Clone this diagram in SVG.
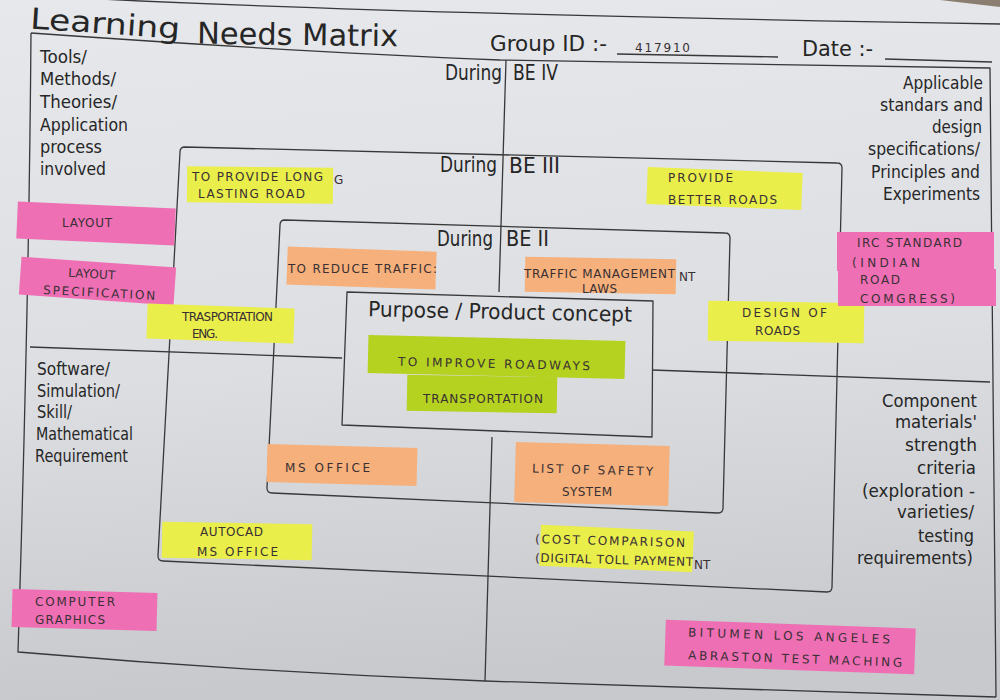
<svg xmlns="http://www.w3.org/2000/svg" width="1000" height="700" viewBox="0 0 1000 700">
<defs>
<linearGradient id="paper" x1="0" y1="0" x2="0.1" y2="1">
<stop offset="0" stop-color="#e6e8eb"/>
<stop offset="0.55" stop-color="#dcdee2"/>
<stop offset="1" stop-color="#c7c9cd"/>
</linearGradient>
<path id="titlePath" d="M30,28.5 Q100,33 180,39" fill="none"/>
<style>
.ln{fill:none;stroke:#383838;stroke-width:1.3;stroke-linejoin:round}
.pt{font-family:"DejaVu Sans","Liberation Sans",sans-serif;fill:#262626}
.lb{font-size:18px}
.rt{font-size:18px;text-anchor:end}
.hd{font-size:21px}
.hw{font-family:"DejaVu Sans","Liberation Sans",sans-serif;fill:#3a3034;font-size:12px}
.y{fill:#e9ee4b}
.lime{fill:#b4d21f}
.or{fill:#f6b07b}
.pk{fill:#ef6fb4}
</style>
</defs>
<rect x="0" y="0" width="1000" height="700" fill="url(#paper)"/>
<path d="M940,0 L1000,0 L1000,7 Z" fill="#8a7e70"/>

<g id="frame">
<path class="ln" d="M100,-1 Q400,14 1000,24" stroke-width="1"/>
<path class="ln" d="M31,33 Q300,52 500,60 L990,68 L996,697"/>
<path class="ln" d="M31,33 Q29,300 18,652 Q250,672 485,681 L996,697"/>
<path class="ln" d="M506,60 L499,292"/>
<path class="ln" d="M492,437 L485,681"/>
<path class="ln" d="M30,347 L342,358"/>
<path class="ln" d="M652,370 L990,382"/>
<path id="box-be3" class="ln" d="M185,147 L837,163 Q842,163 842,168 L832,587 Q832,592 827,592 L163,561 Q158,561 158,556 L180,152 Q180,147 185,147 Z"/>
<path id="box-be2" class="ln" d="M285,220 L725,233 Q730,233 730,238 L723,508 Q723,513 718,513 L272,493 Q267,493 267,488 L280,225 Q280,220 285,220 Z"/>
<path id="box-purpose" class="ln" d="M347,292 L653,301 L652,437 L342,425 Z"/>
</g>

<g id="title">
<text class="pt" font-size="29" fill="#222"><textPath href="#titlePath" textLength="150" lengthAdjust="spacingAndGlyphs">Learning</textPath></text>
<text class="pt" font-size="30" fill="#222" x="197" y="45" transform="rotate(0.8 300 45)" textLength="201" lengthAdjust="spacingAndGlyphs">Needs Matrix</text>
<text class="pt hd" x="490" y="51" textLength="117" lengthAdjust="spacingAndGlyphs">Group ID :-</text>
<path class="ln" d="M617,54 L778,57" stroke-width="1"/>
<text class="hw" x="635" y="52" font-size="10" fill="#555" textLength="55" lengthAdjust="spacing">417910</text>
<text class="pt hd" x="802" y="56" textLength="71" lengthAdjust="spacingAndGlyphs">Date :-</text>
<path class="ln" d="M885,59 L992,62" stroke-width="1"/>
</g>

<g id="label-be4">
<text class="pt hd" x="445" y="80" textLength="57" lengthAdjust="spacingAndGlyphs">During</text>
<text class="pt hd" x="513" y="80" textLength="45" lengthAdjust="spacingAndGlyphs">BE IV</text>
</g>
<g id="label-be3">
<text class="pt hd" x="440" y="172" textLength="57" lengthAdjust="spacingAndGlyphs">During</text>
<text class="pt hd" x="509" y="173" textLength="51" lengthAdjust="spacingAndGlyphs">BE III</text>
</g>
<g id="label-be2">
<text class="pt hd" x="437" y="246" textLength="56" lengthAdjust="spacingAndGlyphs">During</text>
<text class="pt hd" x="506" y="246" textLength="43" lengthAdjust="spacingAndGlyphs">BE II</text>
</g>
<g id="label-purpose">
<text class="pt hd" x="368" y="319" transform="rotate(1.2 500 312)" textLength="264" lengthAdjust="spacingAndGlyphs">Purpose / Product concept</text>
</g>

<g id="label-tools">
<text class="pt lb" x="40" y="63" textLength="47" lengthAdjust="spacingAndGlyphs">Tools/</text>
<text class="pt lb" x="40" y="85" textLength="76" lengthAdjust="spacingAndGlyphs">Methods/</text>
<text class="pt lb" x="40" y="108" textLength="77" lengthAdjust="spacingAndGlyphs">Theories/</text>
<text class="pt lb" x="40" y="131" textLength="88" lengthAdjust="spacingAndGlyphs">Application</text>
<text class="pt lb" x="40" y="153" textLength="62" lengthAdjust="spacingAndGlyphs">process</text>
<text class="pt lb" x="40" y="175" textLength="66" lengthAdjust="spacingAndGlyphs">involved</text>
</g>
<g id="label-standards">
<text class="pt rt" x="983" y="89" textLength="80" lengthAdjust="spacingAndGlyphs">Applicable</text>
<text class="pt rt" x="983" y="111" textLength="103" lengthAdjust="spacingAndGlyphs">standars and</text>
<text class="pt rt" x="982" y="133" textLength="50" lengthAdjust="spacingAndGlyphs">design</text>
<text class="pt rt" x="980" y="155" textLength="112" lengthAdjust="spacingAndGlyphs">specifications/</text>
<text class="pt rt" x="980" y="178" textLength="109" lengthAdjust="spacingAndGlyphs">Principles and</text>
<text class="pt rt" x="980" y="200" textLength="97" lengthAdjust="spacingAndGlyphs">Experiments</text>
</g>
<g id="label-software">
<text class="pt lb" x="37" y="375" textLength="73" lengthAdjust="spacingAndGlyphs">Software/</text>
<text class="pt lb" x="37" y="397" textLength="83" lengthAdjust="spacingAndGlyphs">Simulation/</text>
<text class="pt lb" x="37" y="418" textLength="35" lengthAdjust="spacingAndGlyphs">Skill/</text>
<text class="pt lb" x="36" y="440" textLength="97" lengthAdjust="spacingAndGlyphs">Mathematical</text>
<text class="pt lb" x="35" y="462" textLength="93" lengthAdjust="spacingAndGlyphs">Requirement</text>
</g>
<g id="label-component">
<text class="pt rt" x="977" y="407" textLength="95" lengthAdjust="spacingAndGlyphs">Component</text>
<text class="pt rt" x="977" y="428" textLength="82" lengthAdjust="spacingAndGlyphs">materials'</text>
<text class="pt rt" x="977" y="451" textLength="72" lengthAdjust="spacingAndGlyphs">strength</text>
<text class="pt rt" x="976" y="474" textLength="59" lengthAdjust="spacingAndGlyphs">criteria</text>
<text class="pt rt" x="975" y="497" textLength="113" lengthAdjust="spacingAndGlyphs">(exploration -</text>
<text class="pt rt" x="974" y="518" textLength="77" lengthAdjust="spacingAndGlyphs">varieties/</text>
<text class="pt rt" x="974" y="542" textLength="56" lengthAdjust="spacingAndGlyphs">testing</text>
<text class="pt rt" x="973" y="564" textLength="116" lengthAdjust="spacingAndGlyphs">requirements)</text>
</g>

<g id="note-long-lasting">
<rect class="y" x="187" y="167" width="146" height="36" transform="rotate(0.5 260 185)"/>
<text class="hw" x="192" y="181" font-size="10.5" textLength="131" lengthAdjust="spacing">TO PROVIDE LONG</text>
<text class="hw" x="198" y="198" font-size="10.5" textLength="107" lengthAdjust="spacing">LASTING ROAD</text>
<text class="hw" x="334" y="184" font-size="10.5">G</text>
</g>
<g id="note-better-roads">
<rect class="y" x="647" y="170" width="155" height="37" transform="rotate(2.2 724 188)"/>
<text class="hw" x="668" y="182" font-size="10.5" textLength="65" lengthAdjust="spacing">PROVIDE</text>
<text class="hw" x="668" y="204" font-size="10.5" textLength="109" lengthAdjust="spacing">BETTER ROADS</text>
</g>
<g id="note-layout">
<rect class="pk" x="17" y="205" width="158" height="37" transform="rotate(2.5 96 224)" fill="#f07abb"/>
<text class="hw" x="62" y="227" font-size="10.5" textLength="50" lengthAdjust="spacing">LAYOUT</text>
</g>
<g id="note-layout-spec">
<rect class="pk" x="20" y="262" width="155" height="38" transform="rotate(4 97 281)" fill="#f077b9"/>
<text class="hw" x="68" y="278" font-size="10.5" textLength="47" lengthAdjust="spacing" transform="rotate(3 90 278)">LAYOUT</text>
<text class="hw" x="43" y="297" font-size="10.5" textLength="112" lengthAdjust="spacing" transform="rotate(3 99 297)">SPECIFICATION</text>
</g>
<g id="note-trasportation">
<rect class="y" x="147" y="306" width="147" height="35" transform="rotate(2 220 324)"/>
<text class="hw" x="182" y="321" font-size="9" textLength="91" lengthAdjust="spacing">TRASPORTATION</text>
<text class="hw" x="192" y="338" font-size="9" textLength="26" lengthAdjust="spacing">ENG.</text>
</g>
<g id="note-reduce-traffic">
<rect class="or" x="287" y="249" width="149" height="38" transform="rotate(2 361 269)"/>
<text class="hw" x="288" y="273" font-size="11" textLength="149" lengthAdjust="spacing">TO REDUCE TRAFFIC:</text>
</g>
<g id="note-traffic-mgmt">
<rect class="or" x="525" y="258" width="151" height="35" transform="rotate(1 600 275)"/>
<text class="hw" x="524" y="278" font-size="10" textLength="151" lengthAdjust="spacing">TRAFFIC MANAGEMENT</text>
<text class="hw" x="679" y="281" font-size="10">NT</text>
<text class="hw" x="582" y="293" font-size="10" textLength="35" lengthAdjust="spacing">LAWS</text>
</g>
<g id="note-design-roads">
<rect class="y" x="708" y="302" width="156" height="40" transform="rotate(1 786 322)"/>
<text class="hw" x="742" y="317" font-size="10.5" textLength="85" lengthAdjust="spacing">DESIGN OF</text>
<text class="hw" x="755" y="335" font-size="10.5" textLength="45" lengthAdjust="spacing">ROADS</text>
</g>
<g id="note-irc">
<rect class="pk" x="837" y="232" width="157" height="39" fill="#f06cb4"/>
<rect class="pk" x="838" y="269" width="158" height="37" fill="#ec66af"/>
<text class="hw" x="857" y="247" font-size="10.5" textLength="105" lengthAdjust="spacing">IRC STANDARD</text>
<text class="hw" x="852" y="267" font-size="10.5" textLength="68" lengthAdjust="spacing">(INDIAN</text>
<text class="hw" x="860" y="284" font-size="10.5" textLength="40" lengthAdjust="spacing">ROAD</text>
<text class="hw" x="860" y="303" font-size="10.5" textLength="95" lengthAdjust="spacing">COMGRESS)</text>
</g>
<g id="note-improve-roadways">
<rect class="lime" x="368" y="338" width="257" height="38" transform="rotate(1.3 496 357)"/>
<text class="hw" x="398" y="368" font-size="13" textLength="192" lengthAdjust="spacing" transform="rotate(1.3 494 364)">TO IMPROVE ROADWAYS</text>
</g>
<g id="note-transportation">
<rect class="lime" x="407" y="376" width="150" height="36" transform="rotate(1 482 394)" fill="#b0d01c"/>
<text class="hw" x="423" y="403" font-size="12" textLength="120" lengthAdjust="spacing">TRANSPORTATION</text>
</g>
<g id="note-ms-office">
<rect class="or" x="267" y="446" width="150" height="38" transform="rotate(1.5 342 465)"/>
<text class="hw" x="285" y="472" textLength="85" lengthAdjust="spacing">MS OFFICE</text>
</g>
<g id="note-safety">
<rect class="or" x="515" y="444" width="154" height="60" transform="rotate(1.5 592 474)" fill="#f5ae78"/>
<text class="hw" x="532" y="474" font-size="11" textLength="121" lengthAdjust="spacing" transform="rotate(1.5 592 474)">LIST OF SAFETY</text>
<text class="hw" x="562" y="496" font-size="11" textLength="50" lengthAdjust="spacing">SYSTEM</text>
</g>
<g id="note-autocad">
<rect class="y" x="162" y="523" width="150" height="36" transform="rotate(1 237 541)" fill="#e3ec46"/>
<text class="hw" x="200" y="536" font-size="10.5" textLength="63" lengthAdjust="spacing">AUTOCAD</text>
<text class="hw" x="197" y="556" font-size="10.5" textLength="81" lengthAdjust="spacing">MS OFFICE</text>
</g>
<g id="note-cost">
<rect class="y" x="540" y="528" width="153" height="41" transform="rotate(2.5 616 550)" fill="#d7ea3b"/>
<text class="hw" x="535" y="545" font-size="10.5" textLength="150" lengthAdjust="spacing" transform="rotate(1.5 610 545)">(COST COMPARISON</text>
<text class="hw" x="535" y="564" font-size="9.5" textLength="158" lengthAdjust="spacing" transform="rotate(1.5 614 564)">(DIGITAL TOLL PAYMENT</text>
<text class="hw" x="694" y="569" font-size="10.5">NT</text>
</g>
<g id="note-computer-graphics">
<rect class="pk" x="12" y="591" width="145" height="38" transform="rotate(1.5 85 610)" fill="#ee70b6"/>
<text class="hw" x="35" y="606" font-size="9.5" textLength="80" lengthAdjust="spacing">COMPUTER</text>
<text class="hw" x="35" y="624" font-size="9.5" textLength="70" lengthAdjust="spacing">GRAPHICS</text>
</g>
<g id="note-bitumen">
<rect class="pk" x="665" y="624" width="250" height="46" transform="rotate(2 790 647)" fill="#ec65ae"/>
<text class="hw" x="688" y="640" font-size="11.5" textLength="202" lengthAdjust="spacing" transform="rotate(2 790 640)">BITUMEN LOS ANGELES</text>
<text class="hw" x="688" y="663" font-size="11.5" textLength="214" lengthAdjust="spacing" transform="rotate(2 795 663)">ABRASTON TEST MACHING</text>
</g>
</svg>
